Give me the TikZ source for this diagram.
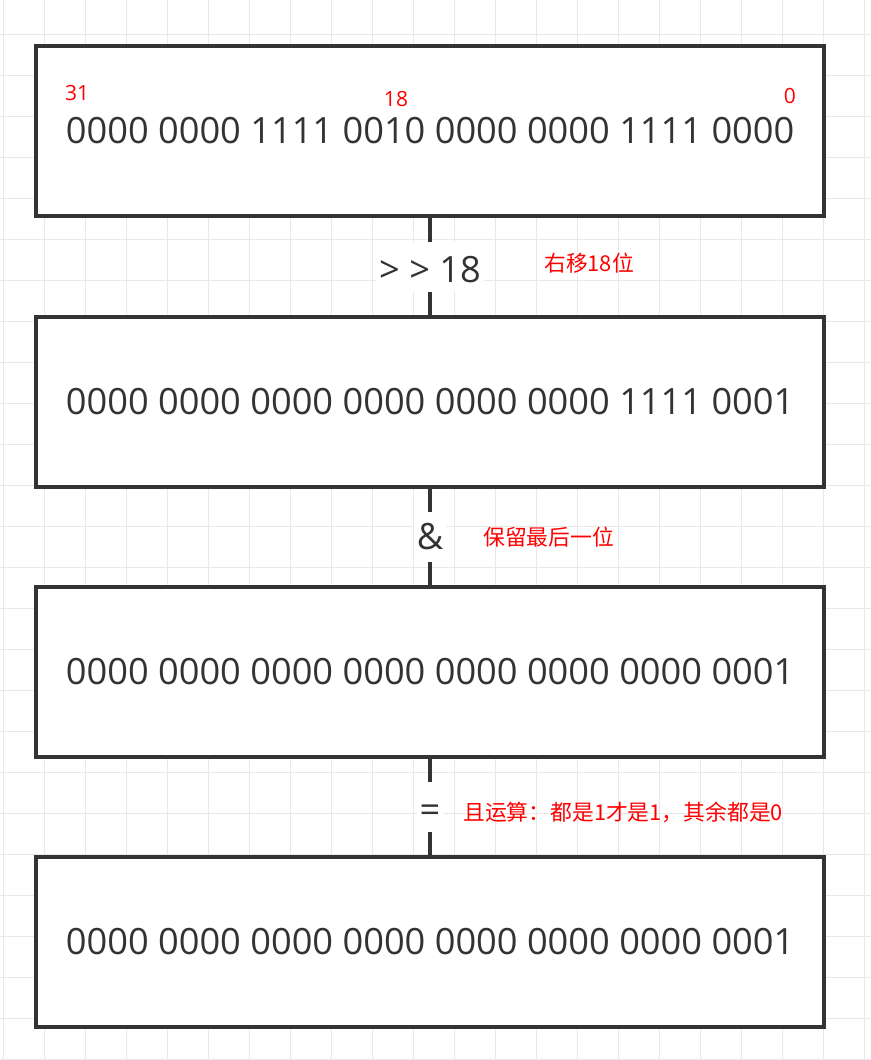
\documentclass[tikz,border=0pt]{standalone}
\usepackage{fontspec}
\setmainfont{Open Sans}
\newfontfamily\cjk{Noto Sans CJK SC}
\definecolor{ink}{HTML}{333333}
\definecolor{gridc}{HTML}{E8E8E8}
\definecolor{redc}{HTML}{FF0000}
\begin{document}
\begin{tikzpicture}[x=1pt,y=-1pt,
  bitbox/.style={draw=ink,line width=4.5pt,fill=white,minimum width=788pt,minimum height=170pt,inner sep=0pt,outer sep=0pt,font=\fontsize{36.2}{40}\selectfont,text=ink},
  link/.style={draw=ink,line width=4.5pt},
  oplabel/.style={fill=white,text=ink,font=\fontsize{36.2}{40}\selectfont,inner sep=3pt,minimum height=50pt},
  note/.style={text=redc,font=\cjk\fontsize{21.8}{24}\selectfont,inner sep=0pt,anchor=west},
  bitno/.style={text=redc,font=\fontsize{21}{24}\selectfont,inner sep=0pt},
  gridline/.style={draw=gridc,line width=1pt}]
\useasboundingbox[fill=white] (0,0) rectangle (870,1060);
\foreach \i in {0,...,21} \draw[gridline] ({3.3+41*\i},0) -- ({3.3+41*\i},1060);
\foreach \k in {0,...,25} \draw[gridline] (0,{34.3+41*\k}) -- (870,{34.3+41*\k});

\node[bitbox] (b1) at (430,131) {0000 0000 1111 0010 0000 0000 1111 0000};
\node[bitbox] (b2) at (430,402) {0000 0000 0000 0000 0000 0000 1111 0001};
\node[bitbox] (b3) at (430,672) {0000 0000 0000 0000 0000 0000 0000 0001};
\node[bitbox] (b4) at (430,942) {0000 0000 0000 0000 0000 0000 0000 0001};

\draw[link] (b1) -- node[oplabel] (op1) {\smash{\raisebox{-16pt}{> > 18}}} (b2);
\draw[link] (b2) -- node[oplabel] (op2) {\&} (b3);
\draw[link] (b3) -- node[oplabel] (op3) {\smash{\raisebox{-15pt}{=}}} (b4);

\node[bitno,anchor=west] (n31) at (65,93) {31};
\node[bitno] (n18) at (396,99) {18};
\node[bitno,anchor=east] (n0) at (796,96) {0};

\node[note] (t1) at (544,263) {右移18位};
\node[note] (t2) at (483,537) {保留最后一位};
\node[note] (t3) at (463,812) {且运算：都是1才是1，其余都是0};
\end{tikzpicture}
\end{document}
